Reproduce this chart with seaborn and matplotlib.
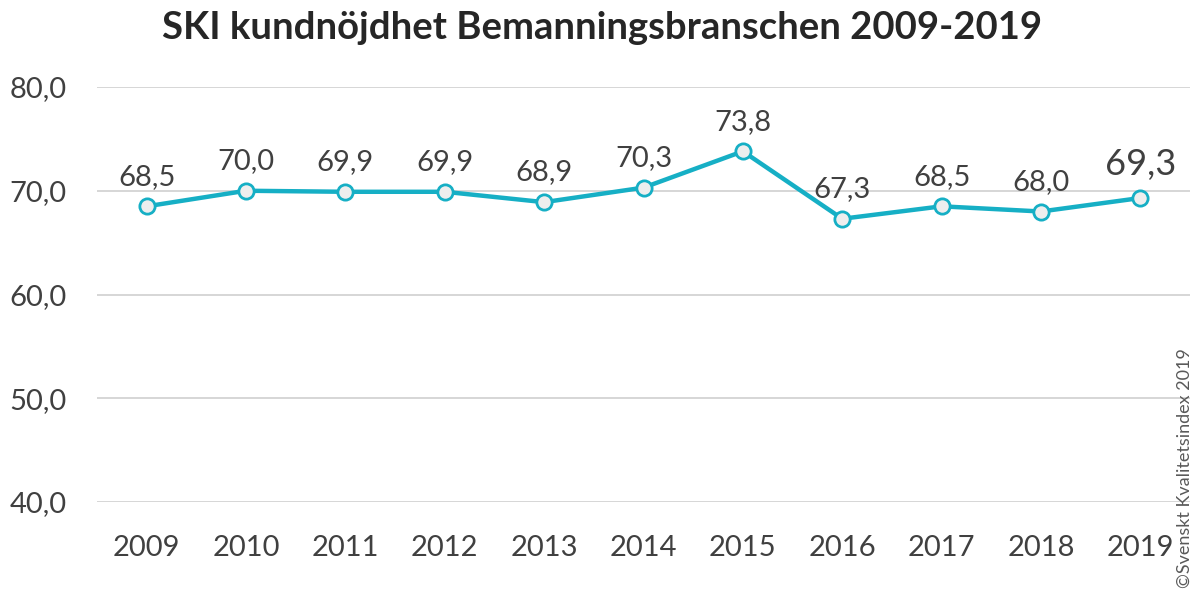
import matplotlib
matplotlib.use("Agg")
import matplotlib.pyplot as plt
import seaborn as sns
import pandas as pd

years = ["2009", "2010", "2011", "2012", "2013", "2014", "2015", "2016", "2017", "2018", "2019"]
values = [68.5, 70.0, 69.9, 69.9, 68.9, 70.3, 73.8, 67.3, 68.5, 68.0, 69.3]
yticks = [40, 50, 60, 70, 80]
title = "SKI kundnöjdhet Bemanningsbranschen 2009-2019"
credit = "©Svenskt Kvalitetsindex 2019"

sns.set_theme(style="white")
plt.rcParams['font.family'] = ['Lato', 'DejaVu Sans']

df = pd.DataFrame({"year": years, "value": values})
df["pos"] = range(len(years))

fig = plt.figure(figsize=(11.93, 5.94), dpi=100)
ax = fig.add_axes([97/1193, 1-502/594, (1190-97)/1193, (502-87)/594])

teal = "#16AFC5"
txt = "#404040"

sns.lineplot(data=df, x="pos", y="value", ax=ax, color=teal, linewidth=3.2,
             marker="o", markersize=11, markerfacecolor="#EEEEEE",
             markeredgecolor=teal, markeredgewidth=2, zorder=3)

ax.set_xlim(-0.5, len(years) - 0.5)
ax.set_ylim(40, 80)
ax.set_yticks(yticks)
ax.set_yticklabels([f"{v:.1f}".replace(".", ",") for v in yticks], fontsize=21, color=txt)
ax.set_xticks(df["pos"])
ax.set_xticklabels(years, fontsize=21, color=txt)
ax.tick_params(axis="both", length=0)
ax.tick_params(axis="y", pad=22)
ax.tick_params(axis="x", pad=24)
ax.set_xlabel("")
ax.set_ylabel("")
for s in ax.spines.values():
    s.set_visible(False)
ax.grid(axis="y", color="#D0D0D0", linewidth=1.2)
ax.set_axisbelow(True)

for i, (p, v) in enumerate(zip(df["pos"], values)):
    last = i == len(values) - 1
    ax.annotate(f"{v:.1f}".replace(".", ","), (p, v), xytext=(0, 12 if not last else 12),
                textcoords="offset points", ha="center", va="bottom",
                fontsize=21 if not last else 26, color=txt, zorder=4)

fig.text(602/1193, 1-28/594, title, ha="center", va="center", fontsize=27.5,
         fontweight="bold", color="#262626")
fig.text(1185/1193, 6/594, credit, rotation=90, ha="center", va="bottom",
         fontsize=13, color="#595959")

fig.savefig("out.png", dpi=100)
